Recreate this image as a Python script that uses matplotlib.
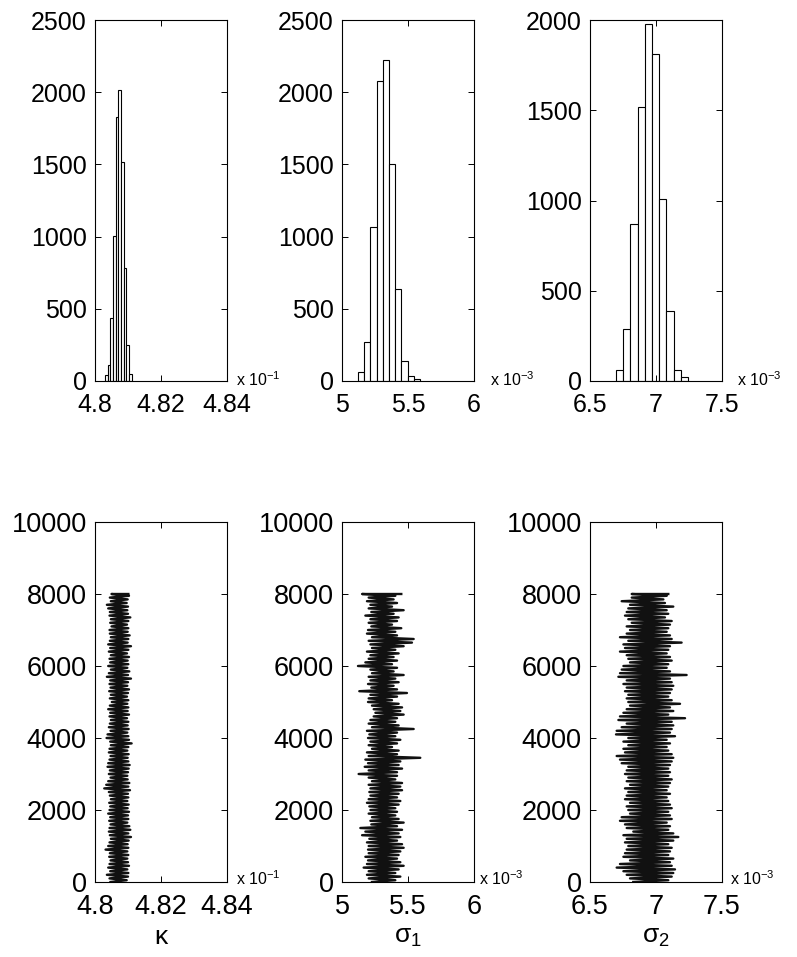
import matplotlib
matplotlib.use("Agg")
import matplotlib.pyplot as plt
import numpy as np

plt.rcParams['font.family'] = ['Liberation Sans', 'DejaVu Sans']
plt.rcParams['mathtext.default'] = 'regular'

# histogram bins: start, width and counts (x in scaled units)
kappa_start, kappa_width = 4.8030, 0.00081
kappa_counts = [39, 111, 434, 1004, 1830, 2015, 1519, 785, 247, 48]
sig1_start, sig1_width = 5.121, 0.047
sig1_counts = [60, 270, 1065, 2080, 2220, 1500, 640, 140, 35, 15]
sig2_start, sig2_width = 6.697, 0.0545
sig2_counts = [60, 290, 870, 1520, 1980, 1810, 1010, 390, 60, 20]

# chain traces: smallest / largest sample in each block of 100 iterations
iters = np.arange(0, 8001, 100)
kappa_lo = [4.8047, 4.8044, 4.8036, 4.8046, 4.8040, 4.8044, 4.8047, 4.8043, 4.8045, 4.8032,
            4.8040, 4.8044, 4.8048, 4.8045, 4.8042, 4.8044, 4.8047, 4.8043, 4.8046, 4.8040,
            4.8044, 4.8046, 4.8043, 4.8048, 4.8045, 4.8042, 4.8028, 4.8034, 4.8040, 4.8047,
            4.8042, 4.8045, 4.8038, 4.8040, 4.8044, 4.8047, 4.8042, 4.8044, 4.8048, 4.8046,
            4.8035, 4.8038, 4.8047, 4.8042, 4.8045, 4.8048, 4.8044, 4.8046, 4.8040, 4.8045,
            4.8051, 4.8045, 4.8048, 4.8043, 4.8047, 4.8044, 4.8046, 4.8036, 4.8042, 4.8048,
            4.8040, 4.8046, 4.8044, 4.8048, 4.8042, 4.8046, 4.8040, 4.8045, 4.8048, 4.8045,
            4.8044, 4.8050, 4.8046, 4.8048, 4.8044, 4.8045, 4.8040, 4.8036, 4.8048, 4.8045,
            4.8050]
kappa_hi = [4.8096, 4.8100, 4.8101, 4.8098, 4.8103, 4.8100, 4.8098, 4.8101, 4.8098, 4.8101,
            4.8099, 4.8102, 4.8109, 4.8101, 4.8107, 4.8104, 4.8098, 4.8101, 4.8100, 4.8103,
            4.8099, 4.8102, 4.8098, 4.8101, 4.8100, 4.8106, 4.8101, 4.8104, 4.8099, 4.8098,
            4.8100, 4.8102, 4.8105, 4.8101, 4.8099, 4.8102, 4.8098, 4.8101, 4.8111, 4.8103,
            4.8101, 4.8098, 4.8102, 4.8099, 4.8101, 4.8097, 4.8103, 4.8099, 4.8101, 4.8098,
            4.8101, 4.8097, 4.8100, 4.8103, 4.8098, 4.8100, 4.8109, 4.8100, 4.8104, 4.8098,
            4.8101, 4.8099, 4.8103, 4.8097, 4.8101, 4.8109, 4.8099, 4.8101, 4.8105, 4.8099,
            4.8101, 4.8097, 4.8101, 4.8107, 4.8100, 4.8098, 4.8100, 4.8096, 4.8099, 4.8103,
            4.8101]
sig1_lo = [5.227, 5.202, 5.189, 5.202, 5.164, 5.189, 5.197, 5.177, 5.202, 5.197,
           5.202, 5.189, 5.207, 5.152, 5.177, 5.139, 5.222, 5.215, 5.227, 5.202,
           5.215, 5.207, 5.189, 5.202, 5.215, 5.207, 5.215, 5.202, 5.227, 5.202,
           5.126, 5.202, 5.172, 5.197, 5.177, 5.202, 5.189, 5.227, 5.202, 5.215,
           5.197, 5.207, 5.189, 5.227, 5.202, 5.215, 5.240, 5.253, 5.240, 5.227,
           5.197, 5.202, 5.215, 5.131, 5.222, 5.197, 5.215, 5.202, 5.227, 5.215,
           5.121, 5.177, 5.202, 5.215, 5.189, 5.227, 5.215, 5.202, 5.227, 5.189,
           5.197, 5.222, 5.202, 5.215, 5.177, 5.222, 5.202, 5.215, 5.189, 5.202,
           5.152]
sig1_hi = [5.404, 5.442, 5.404, 5.429, 5.467, 5.442, 5.417, 5.429, 5.442, 5.467,
           5.455, 5.417, 5.442, 5.429, 5.455, 5.417, 5.467, 5.429, 5.404, 5.417,
           5.404, 5.429, 5.442, 5.417, 5.429, 5.455, 5.442, 5.455, 5.404, 5.417,
           5.417, 5.455, 5.429, 5.442, 5.593, 5.417, 5.429, 5.379, 5.417, 5.442,
           5.404, 5.417, 5.543, 5.429, 5.404, 5.417, 5.467, 5.442, 5.455, 5.429,
           5.379, 5.417, 5.492, 5.417, 5.391, 5.429, 5.404, 5.467, 5.391, 5.417,
           5.379, 5.417, 5.391, 5.429, 5.404, 5.467, 5.530, 5.543, 5.417, 5.404,
           5.449, 5.379, 5.417, 5.429, 5.391, 5.467, 5.379, 5.417, 5.391, 5.404,
           5.449]
sig2_lo = [6.828, 6.803, 6.778, 6.753, 6.702, 6.727, 6.803, 6.753, 6.765, 6.778,
           6.790, 6.765, 6.778, 6.753, 6.828, 6.778, 6.765, 6.727, 6.740, 6.803,
           6.790, 6.778, 6.803, 6.765, 6.778, 6.790, 6.765, 6.803, 6.778, 6.790,
           6.765, 6.778, 6.790, 6.740, 6.727, 6.702, 6.765, 6.753, 6.790, 6.753,
           6.790, 6.697, 6.702, 6.740, 6.778, 6.715, 6.727, 6.753, 6.778, 6.803,
           6.790, 6.778, 6.790, 6.765, 6.778, 6.753, 6.778, 6.715, 6.727, 6.740,
           6.753, 6.803, 6.790, 6.778, 6.727, 6.765, 6.753, 6.790, 6.727, 6.778,
           6.803, 6.778, 6.816, 6.790, 6.765, 6.778, 6.790, 6.803, 6.740, 6.816,
           6.816]
sig2_hi = [7.093, 7.119, 7.131, 7.144, 7.119, 7.106, 7.131, 7.093, 7.106, 7.119,
           7.093, 7.131, 7.169, 7.131, 7.093, 7.106, 7.081, 7.119, 7.106, 7.093,
           7.119, 7.106, 7.093, 7.081, 7.106, 7.081, 7.093, 7.106, 7.119, 7.093,
           7.106, 7.093, 7.106, 7.119, 7.131, 7.119, 7.093, 7.081, 7.106, 7.081,
           7.144, 7.106, 7.119, 7.131, 7.119, 7.220, 7.093, 7.131, 7.106, 7.182,
           7.119, 7.093, 7.106, 7.119, 7.131, 7.119, 7.106, 7.232, 7.106, 7.081,
           7.093, 7.119, 7.106, 7.081, 7.093, 7.106, 7.194, 7.119, 7.106, 7.081,
           7.093, 7.106, 7.119, 7.068, 7.093, 7.081, 7.131, 7.068, 7.056, 7.081,
           7.093]

panels = [
    dict(start=kappa_start, width=kappa_width, counts=kappa_counts, lo=kappa_lo, hi=kappa_hi,
         xlim=(4.8, 4.84), xticks=[4.8, 4.82, 4.84], xlabels=['4.8', '4.82', '4.84'],
         hist_ymax=2500, exp='-1', name='\u03ba', off_top=9, off_bot=9),
    dict(start=sig1_start, width=sig1_width, counts=sig1_counts, lo=sig1_lo, hi=sig1_hi,
         xlim=(5, 6), xticks=[5, 5.5, 6], xlabels=['5', '5.5', '6'],
         hist_ymax=2500, exp='-3', name='\u03c3$_1$', off_top=16, off_bot=5),
    dict(start=sig2_start, width=sig2_width, counts=sig2_counts, lo=sig2_lo, hi=sig2_hi,
         xlim=(6.5, 7.5), xticks=[6.5, 7, 7.5], xlabels=['6.5', '7', '7.5'],
         hist_ymax=2000, exp='-3', name='\u03c3$_2$', off_top=15, off_bot=8),
]

fig = plt.figure(figsize=(7.97, 9.57), dpi=100)
W, H = 797.0, 957.0
lefts = [95, 342, 590]
axw = 132

def style(ax, xlim, xticks, xlabels, ylim, yticks, size, xpad):
    ax.set_xlim(*xlim)
    ax.set_ylim(*ylim)
    ax.set_xticks(xticks)
    ax.set_xticklabels(xlabels)
    ax.set_yticks(yticks)
    ax.tick_params(direction='in', top=True, right=True, length=4, width=0.7,
                   labelsize=size)
    ax.tick_params(axis='x', pad=xpad)
    ax.tick_params(axis='y', pad=6)
    for s in ax.spines.values():
        s.set_linewidth(0.8)

for i, p in enumerate(panels):
    # histogram of the samples
    ax = fig.add_axes([lefts[i] / W, 1 - 381 / H, axw / W, 361 / H])
    edges = p['start'] + p['width'] * np.arange(len(p['counts']))
    ax.bar(edges, p['counts'], width=p['width'], align='edge',
           facecolor='white', edgecolor='black', linewidth=0.8)
    style(ax, p['xlim'], p['xticks'], p['xlabels'], (0, p['hist_ymax']),
          np.arange(0, p['hist_ymax'] + 1, 500), 18, 9)
    ax.text(1 + p['off_top'] / axw, 0.005, 'x 10$^{' + p['exp'] + '}$', transform=ax.transAxes,
            fontsize=11.5, va='center', ha='left')

    # trace of the chain
    ax = fig.add_axes([lefts[i] / W, 1 - 882 / H, axw / W, 360 / H])
    ys = np.empty(2 * len(iters))
    xs = np.empty(2 * len(iters))
    ys[0::2] = iters
    ys[1::2] = np.minimum(iters + 50, 8000)
    xs[0::2] = p['lo']
    xs[1::2] = p['hi']
    ax.plot(xs, ys, color='#111111', linewidth=1.7)
    style(ax, p['xlim'], p['xticks'], p['xlabels'], (0, 10000),
          np.arange(0, 10001, 2000), 19.5, 9)
    ax.text(1 + p['off_bot'] / axw, 0.01, 'x 10$^{' + p['exp'] + '}$', transform=ax.transAxes,
            fontsize=11.5, va='center', ha='left')
    ax.set_xlabel(p['name'], fontsize=19, labelpad=3)

fig.savefig('out.png', dpi=100)
